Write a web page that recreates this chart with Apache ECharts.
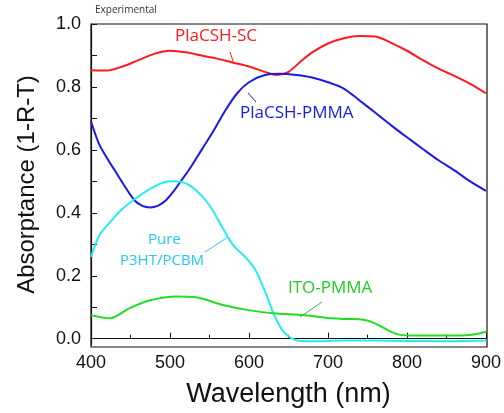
<!DOCTYPE html>
<html>
<head>
<meta charset="utf-8">
<script src="https://cdn.jsdelivr.net/npm/echarts@6/dist/echarts.min.js"></script>
<style>
  html, body { margin: 0; padding: 0; background: #fff; }
  #chart { width: 504px; height: 413px; }
</style>
</head>
<body>
<div id="chart"></div>
<script>
const scWl = [400, 420, 440, 460, 480, 500, 520, 540, 560, 580, 600, 620, 635, 650, 665, 680, 700, 720, 740, 760, 780, 800, 820, 840, 860, 880, 900]
const scAbs = [0.853, 0.852, 0.865, 0.885, 0.905, 0.915, 0.91, 0.9, 0.89, 0.877, 0.865, 0.848, 0.838, 0.848, 0.88, 0.91, 0.938, 0.955, 0.962, 0.96, 0.94, 0.915, 0.885, 0.858, 0.835, 0.81, 0.78]

const pmmaWl = [400, 410, 420, 430, 440, 455, 465, 475, 485, 495, 505, 515, 525, 540, 555, 570, 585, 600, 620, 640, 660, 680, 700, 720, 740, 760, 780, 800, 820, 840, 860, 880, 900]
const pmmaAbs = [0.69, 0.62, 0.575, 0.535, 0.495, 0.44, 0.422, 0.417, 0.423, 0.44, 0.47, 0.505, 0.54, 0.6, 0.66, 0.725, 0.78, 0.815, 0.838, 0.842, 0.838, 0.83, 0.815, 0.795, 0.757, 0.718, 0.678, 0.64, 0.603, 0.567, 0.535, 0.5, 0.47]

const p3htWl = [400, 411, 424, 440, 462, 483, 500, 516, 533, 550, 567, 580, 597, 609, 622, 630, 643, 660, 680, 720, 760, 800, 850, 900]
const p3htAbs = [0.26, 0.33, 0.37, 0.413, 0.455, 0.487, 0.5, 0.497, 0.472, 0.424, 0.35, 0.297, 0.255, 0.214, 0.14, 0.087, 0.024, -0.005, -0.008, -0.006, -0.006, -0.007, -0.008, -0.006]

const itoWl = [400, 424, 449, 475, 508, 533, 567, 601, 635, 668, 700, 720, 745, 760, 775, 790, 810, 850, 880, 900]
const itoAbs = [0.075, 0.065, 0.097, 0.122, 0.134, 0.132, 0.107, 0.09, 0.08, 0.075, 0.066, 0.063, 0.06, 0.048, 0.028, 0.013, 0.01, 0.01, 0.012, 0.022]

const yLabels = [0, 0.2, 0.4, 0.6, 0.8, 1.0]
const yTicks = [0, 0.1, 0.2, 0.3, 0.4, 0.5, 0.6, 0.7, 0.8, 0.9, 1.0]

const zip = (xs, ys) => xs.map((x, i) => [x, ys[i]])

const chart = echarts.init(document.getElementById('chart'))
const axisFont = { fontFamily: 'Liberation Sans', color: '#111' }
const noteFont = 'Open Sans'

function line(name, wl, vals, color) {
  return {
    name, type: 'line', data: zip(wl, vals), smooth: 0.3,
    symbol: 'none', lineStyle: { color, width: 2 }, z: 3
  }
}

chart.setOption({
  animation: false,
  grid: { left: 91, right: 17, top: 24, bottom: 66 },
  xAxis: {
    type: 'value', min: 400, max: 900, interval: 100,
    name: 'Wavelength (nm)', nameLocation: 'middle', nameGap: 36,
    nameTextStyle: { ...axisFont, fontSize: 27 },
    axisLine: { lineStyle: { color: '#111', width: 1.2 } },
    axisTick: { inside: true, length: 6, lineStyle: { color: '#111' } },
    minorTick: { show: true, splitNumber: 2, length: 4, lineStyle: { color: '#111' } },
    axisLabel: { ...axisFont, fontSize: 18, margin: 9 },
    splitLine: { show: false }
  },
  yAxis: {
    type: 'value', min: -0.02, max: 1.0,
    name: 'Absorptance (1-R-T)', nameLocation: 'middle', nameGap: 52,
    nameTextStyle: { ...axisFont, fontSize: 24 },
    axisLine: { show: true, lineStyle: { color: '#111', width: 1.2 } },
    axisTick: { inside: true, length: 6, customValues: yTicks, lineStyle: { color: '#111' } },
    axisLabel: { ...axisFont, fontSize: 18, margin: 10, customValues: yLabels, formatter: v => v.toFixed(1) },
    splitLine: { show: false }
  },
  graphic: [
    // frame on top and right
    { type: 'rect', shape: { x: 91, y: 24, width: 396, height: 323 }, style: { fill: 'none', stroke: '#111', lineWidth: 1.2 }, silent: true, z: 1 },
    { type: 'text', left: 95, top: 5, style: { text: 'Experimental', fontFamily: noteFont, fontSize: 10, fill: '#333' } },
    { type: 'text', left: 175, top: 28, style: { text: 'PlaCSH-SC', fontFamily: noteFont, fontSize: 17, fill: '#ff1a1a' } },
    { type: 'line', shape: { x1: 230, y1: 52, x2: 234, y2: 64 }, style: { stroke: '#ff1a1a', lineWidth: 1 } },
    { type: 'text', left: 240, top: 105, style: { text: 'PlaCSH-PMMA', fontFamily: noteFont, fontSize: 17, fill: '#1a1ae6' } },
    { type: 'line', shape: { x1: 248, y1: 93, x2: 256, y2: 102 }, style: { stroke: '#1a1ae6', lineWidth: 1 } },
    { type: 'text', left: 148, top: 232, style: { text: 'Pure', fontFamily: noteFont, fontSize: 15, fill: '#22ccee' } },
    { type: 'text', left: 120, top: 253, style: { text: 'P3HT/PCBM', fontFamily: noteFont, fontSize: 15, fill: '#22ccee' } },
    { type: 'line', shape: { x1: 205, y1: 252, x2: 228, y2: 237 }, style: { stroke: '#22ccee', lineWidth: 1 } },
    { type: 'text', left: 288, top: 280, style: { text: 'ITO-PMMA', fontFamily: noteFont, fontSize: 17, fill: '#22cc22' } },
    { type: 'line', shape: { x1: 300, y1: 317, x2: 322, y2: 302 }, style: { stroke: '#22cc22', lineWidth: 1 } }
  ],
  series: [
    line('PlaCSH-SC', scWl, scAbs, '#ff1a1a'),
    line('PlaCSH-PMMA', pmmaWl, pmmaAbs, '#1a1ae6'),
    line('Pure P3HT/PCBM', p3htWl, p3htAbs, '#22eef2'),
    line('ITO-PMMA', itoWl, itoAbs, '#22dd22')
  ]
})
</script>
</body>
</html>
